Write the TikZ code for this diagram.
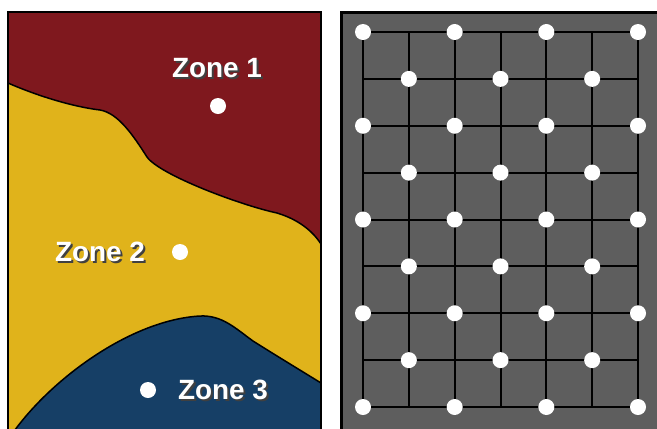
\documentclass[tikz,border=0pt]{standalone}
\usepackage{fontspec}
\setmainfont{Liberation Sans}
\usepackage{xcolor}
\definecolor{ZoneRed}{HTML}{7F181E}
\definecolor{ZoneYellow}{HTML}{E0B31B}
\definecolor{ZoneBlue}{HTML}{163F66}
\definecolor{GridGray}{HTML}{5E5E5E}
% white text with a dark drop shadow
\newcommand{\shadowed}[1]{\rlap{\hspace{2bp}\raisebox{-2bp}{\color{black!75}#1}}#1}

\begin{document}
\begin{tikzpicture}[
	x=1bp, y=-1bp, % one unit is one pixel, y downwards
	% Style for the zone boundaries
	boundary/.style={
		draw=black,
		line width=1.5bp
	},
	% Style for the white sample points
	point/.style={
		circle,
		fill=white,
		minimum size=16bp,
		inner sep=0pt
	},
	% Style for the zone names
	zone label/.style={
		text=white,
		font=\bfseries\fontsize{28}{30}\selectfont,
		inner sep=0pt
	},
	% Style for the grid lines
	grid line/.style={
		draw=black,
		line width=2bp
	}
	]
	
	\useasboundingbox (0,0) rectangle (657,428);
	
	% 1. Left panel: the three zones
	\begin{scope}
		\clip (8,12) rectangle (321,440);
		\fill[ZoneRed] (8,12) rectangle (321,440);
		\fill[ZoneYellow] (8,83) .. controls (40,97) and (75,107) .. (100,110)
			.. controls (118,113) and (133,135) .. (147,157)
			.. controls (160,175) and (240,205) .. (277,213)
			.. controls (297,219) and (312,230) .. (321,244)
			-- (321,440) -- (8,440) -- cycle;
		\fill[ZoneBlue] (12,434) .. controls (50,380) and (130,320) .. (200,316)
			.. controls (222,315) and (235,328) .. (253,341)
			.. controls (280,358) and (300,370) .. (321,383)
			-- (321,440) -- cycle;
		% Boundaries between the zones
		\draw[boundary] (8,83) .. controls (40,97) and (75,107) .. (100,110)
			.. controls (118,113) and (133,135) .. (147,157)
			.. controls (160,175) and (240,205) .. (277,213)
			.. controls (297,219) and (312,230) .. (321,244);
		\draw[boundary] (12,434) .. controls (50,380) and (130,320) .. (200,316)
			.. controls (222,315) and (235,328) .. (253,341)
			.. controls (280,358) and (300,370) .. (321,383);
	\end{scope}
	\draw[line width=2bp] (8,440) -- (8,12) -- (321,12) -- (321,440);
	
	% Zone points and names
	\node[point] (p1) at (218,106) {};
	\node[point] (p2) at (180,252) {};
	\node[point] (p3) at (148,390) {};
	
	\node[zone label] (z1) at (217,69) {\shadowed{Zone 1}};
	\node[zone label] (z2) at (100,253) {\shadowed{Zone 2}};
	\node[zone label] (z3) at (223,391) {\shadowed{Zone 3}};
	
	% 2. Right panel: the regular grid
	\fill[GridGray] (341,12) rectangle (670,440);
	\draw[line width=3bp] (341,440) -- (341,12) -- (670,12);
	
	\foreach \j in {0,...,8}
		\draw[grid line] (363,32+\j*46.875) -- (638,32+\j*46.875);
	\foreach \i in {0,...,6}
		\draw[grid line] (363+\i*45.833,32) -- (363+\i*45.833,407);
	
	% Grid points on every other crossing
	\foreach \i in {0,...,6}
		\foreach \j in {0,...,8} {
			\pgfmathtruncatemacro{\parity}{mod(\i+\j,2)}
			\ifnum\parity=0
				\node[point] (g\i-\j) at (363+\i*45.833,32+\j*46.875) {};
			\fi
		}
	
\end{tikzpicture}
\end{document}
